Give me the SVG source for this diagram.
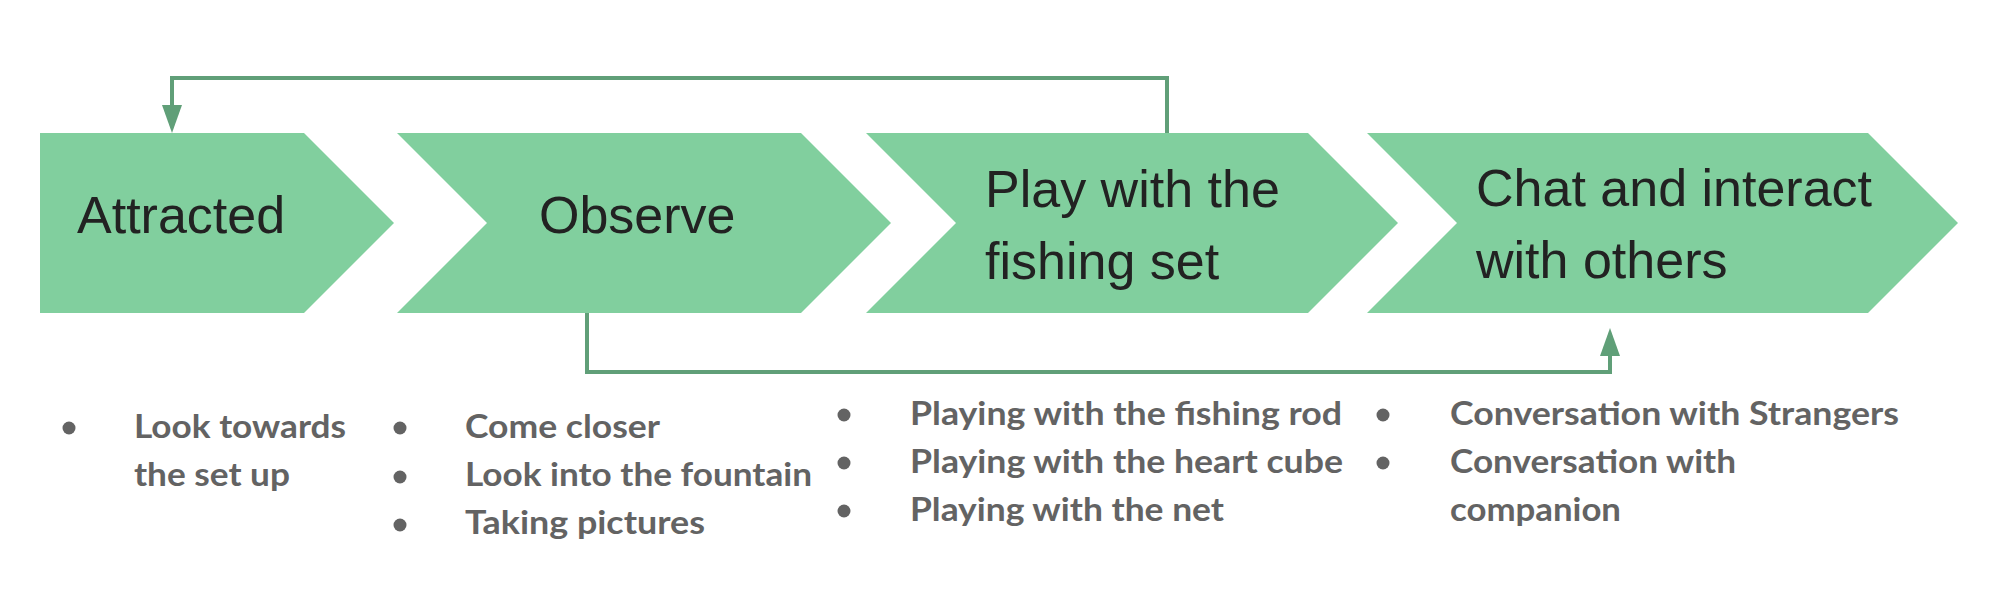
<svg xmlns="http://www.w3.org/2000/svg" width="2004" height="600" viewBox="0 0 2004 600">
<style>
.chev{fill:#81CF9E}
.title{font-family:"Liberation Sans",Arial,sans-serif;font-size:52px;fill:#222}
.item{font-family:Lato,"Open Sans",sans-serif;font-weight:700;font-size:32px;fill:#636363}
.dot{fill:#636363}
.conn{fill:none;stroke:#609F78;stroke-width:4}
</style>
<defs>
<marker id="ah" viewBox="0 0 28 20" refX="0" refY="10" markerWidth="28" markerHeight="20" markerUnits="userSpaceOnUse" orient="auto">
<path d="M0,0 L28,10 L0,20 z" fill="#609F78"/>
</marker>
</defs>
<rect width="2004" height="600" fill="#fff"/>
<g id="attracted">
<polygon class="chev" points="40,133 304,133 394,223 304,313 40,313"/>
<text class="title" x="77" y="233">Attracted</text>
</g>
<g id="observe">
<polygon class="chev" points="397,133 801,133 891,223 801,313 397,313 487,223"/>
<text class="title" x="539" y="233">Observe</text>
</g>
<g id="play">
<polygon class="chev" points="866,133 1308,133 1398,223 1308,313 866,313 956,223"/>
<text class="title" x="985" y="207">Play with the</text>
<text class="title" x="985" y="279">fishing set</text>
</g>
<g id="chat">
<polygon class="chev" points="1367,133 1868,133 1958,223 1868,313 1367,313 1457,223"/>
<text class="title" x="1476" y="206">Chat and interact</text>
<text class="title" x="1476" y="278">with others</text>
</g>
<g id="connectors">
<path class="conn" d="M1167,133 V78 H172 V105" marker-end="url(#ah)"/>
<path class="conn" d="M587,313 V372 H1610 V356" marker-end="url(#ah)"/>
</g>
<g id="list-attracted">
<circle class="dot" cx="69" cy="428" r="6.5"/>
<text class="item" x="134" y="438" textLength="212" lengthAdjust="spacingAndGlyphs">Look towards</text>
<text class="item" x="134" y="486" textLength="156" lengthAdjust="spacingAndGlyphs">the set up</text>
</g>
<g id="list-observe">
<circle class="dot" cx="400" cy="428" r="6.5"/>
<circle class="dot" cx="400" cy="477" r="6.5"/>
<circle class="dot" cx="400" cy="525" r="6.5"/>
<text class="item" x="465" y="438" textLength="195" lengthAdjust="spacingAndGlyphs">Come closer</text>
<text class="item" x="465" y="486" textLength="347" lengthAdjust="spacingAndGlyphs">Look into the fountain</text>
<text class="item" x="465" y="534" textLength="240" lengthAdjust="spacingAndGlyphs">Taking pictures</text>
</g>
<g id="list-play">
<circle class="dot" cx="844" cy="415" r="6.5"/>
<circle class="dot" cx="844" cy="463" r="6.5"/>
<circle class="dot" cx="844" cy="511" r="6.5"/>
<text class="item" x="910" y="425" textLength="432" lengthAdjust="spacingAndGlyphs">Playing with the fishing rod</text>
<text class="item" x="910" y="473" textLength="433" lengthAdjust="spacingAndGlyphs">Playing with the heart cube</text>
<text class="item" x="910" y="521" textLength="314" lengthAdjust="spacingAndGlyphs">Playing with the net</text>
</g>
<g id="list-chat">
<circle class="dot" cx="1383" cy="415" r="6.5"/>
<circle class="dot" cx="1383" cy="463" r="6.5"/>
<text class="item" x="1450" y="425" textLength="449" lengthAdjust="spacingAndGlyphs">Conversation with Strangers</text>
<text class="item" x="1450" y="473" textLength="286" lengthAdjust="spacingAndGlyphs">Conversation with</text>
<text class="item" x="1450" y="521" textLength="171" lengthAdjust="spacingAndGlyphs">companion</text>
</g>
</svg>
